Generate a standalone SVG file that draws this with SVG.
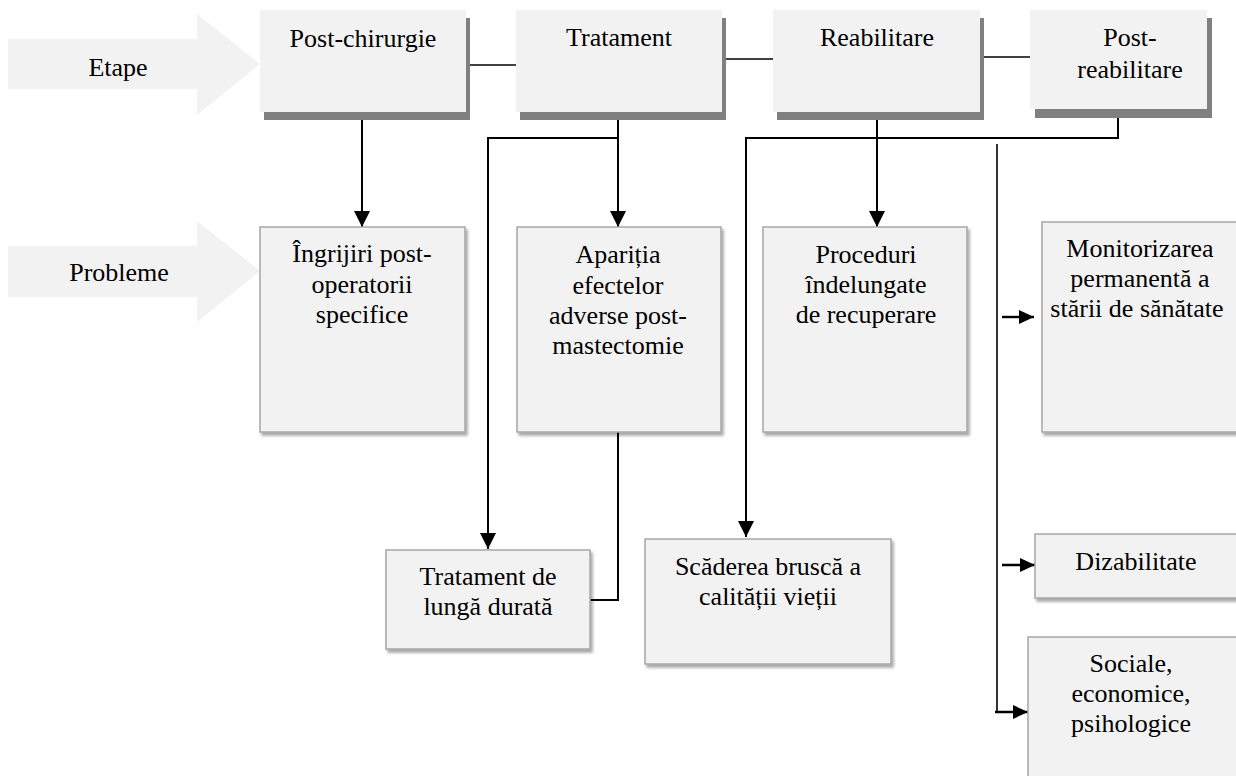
<svg xmlns="http://www.w3.org/2000/svg" width="1236" height="776" viewBox="0 0 1236 776">
  <style>
    .t { font-family: 'Liberation Serif', 'Times New Roman', 'DejaVu Serif', serif; font-size: 26px; fill: #000; text-anchor: middle; }
    .big { fill: #f2f2f2; }
    .shadow { fill: #808080; }
    .box { fill: #f2f2f2; stroke: #a6a6a6; stroke-width: 1.5; filter: url(#soft); }
    .ln { fill: none; stroke: #000; stroke-width: 2; }
    .thin { fill: none; stroke: #000; stroke-width: 1.6; }
    .sln { fill: none; stroke: #000; stroke-width: 2.4; }
    .arr { marker-end: url(#ah); }
    .sarr { marker-end: url(#sh); }
  </style>
  <defs>
    <filter id="soft" x="-5%" y="-5%" width="115%" height="115%">
      <feDropShadow dx="2" dy="3" stdDeviation="1.5" flood-color="#000" flood-opacity="0.35"/>
    </filter>
    <marker id="ah" markerUnits="userSpaceOnUse" markerWidth="18" markerHeight="18" refX="16" refY="8" orient="auto" viewBox="0 0 18 18">
      <path d="M0,0 L16,8 L0,16 z" fill="#000"/>
    </marker>
    <marker id="sh" markerUnits="userSpaceOnUse" markerWidth="16" markerHeight="16" refX="15" refY="7" orient="auto" viewBox="0 0 16 16">
      <path d="M0,0 L15,7 L0,14 z" fill="#000"/>
    </marker>
  </defs>

  <g id="etape">
    <polygon class="big" points="8,39 197,39 197,14 260,64 197,115 197,89 8,89"/>
    <text class="t" x="118" y="76">Etape</text>
  </g>
  <g id="probleme">
    <polygon class="big" points="8,246 197,246 197,221 260,271 197,322 197,297 8,297"/>
    <text class="t" x="119" y="281">Probleme</text>
  </g>

  <g id="connectors">
    <line class="thin" x1="470" y1="65" x2="516" y2="65"/>
    <line class="thin" x1="726" y1="59" x2="773" y2="59"/>
    <line class="thin" x1="984" y1="57" x2="1030" y2="57"/>
    <line class="ln arr" x1="362" y1="120" x2="362" y2="227"/>
    <line class="ln arr" x1="618" y1="112" x2="618" y2="227"/>
    <polyline class="ln arr" points="618,138 488,138 488,549"/>
    <line class="ln arr" x1="877" y1="112" x2="877" y2="227"/>
    <polyline class="ln arr" points="1118,109 1118,138 746,138 746,537"/>
    <polyline class="ln" points="618,432 618,600 590,600"/>
    <line class="thin" x1="997" y1="144" x2="997" y2="713"/>
    <line class="sln sarr" x1="1002" y1="317" x2="1034" y2="317"/>
    <line class="sln sarr" x1="1002" y1="565" x2="1035" y2="565"/>
    <line class="sln sarr" x1="995" y1="712" x2="1028" y2="712"/>
  </g>

  <g id="post-chirurgie">
    <rect class="shadow" x="264" y="18" width="206" height="102"/>
    <rect class="big" x="260" y="10" width="206" height="102"/>
    <text class="t" x="363" y="47">Post-chirurgie</text>
  </g>
  <g id="tratament">
    <rect class="shadow" x="520" y="18" width="206" height="102"/>
    <rect class="big" x="516" y="10" width="206" height="102"/>
    <text class="t" x="619" y="46">Tratament</text>
  </g>
  <g id="reabilitare">
    <rect class="shadow" x="777" y="18" width="207" height="102"/>
    <rect class="big" x="773" y="10" width="207" height="102"/>
    <text class="t" x="877" y="46">Reabilitare</text>
  </g>
  <g id="post-reabilitare">
    <rect class="shadow" x="1035" y="18" width="177" height="100"/>
    <rect class="big" x="1030" y="10" width="177" height="99"/>
    <text class="t" x="1130" y="46">Post-</text>
    <text class="t" x="1130" y="78">reabilitare</text>
  </g>

  <g id="ingrijiri">
    <rect class="box" x="260" y="227" width="205" height="205"/>
    <text class="t" x="362" y="262">Îngrijiri post-</text>
    <text class="t" x="362" y="293">operatorii</text>
    <text class="t" x="362" y="323">specifice</text>
  </g>
  <g id="aparitia">
    <rect class="box" x="517" y="227" width="204" height="205"/>
    <text class="t" x="618" y="263">Apariția</text>
    <text class="t" x="618" y="294">efectelor</text>
    <text class="t" x="618" y="324">adverse post-</text>
    <text class="t" x="618" y="354">mastectomie</text>
  </g>
  <g id="proceduri">
    <rect class="box" x="763" y="227" width="204" height="205"/>
    <text class="t" x="866" y="263">Proceduri</text>
    <text class="t" x="866" y="293">îndelungate</text>
    <text class="t" x="866" y="323">de recuperare</text>
  </g>
  <g id="monitorizarea">
    <rect class="box" x="1042" y="222" width="200" height="210"/>
    <text class="t" x="1140" y="257">Monitorizarea</text>
    <text class="t" x="1140" y="287">permanentă a</text>
    <text class="t" x="1137" y="317">stării de sănătate</text>
  </g>
  <g id="tratament-lunga">
    <rect class="box" x="386" y="550" width="204" height="99"/>
    <text class="t" x="488" y="585">Tratament de</text>
    <text class="t" x="488" y="615">lungă durată</text>
  </g>
  <g id="scaderea">
    <rect class="box" x="645" y="539" width="246" height="125"/>
    <text class="t" x="768" y="575">Scăderea bruscă a</text>
    <text class="t" x="768" y="605">calității vieții</text>
  </g>
  <g id="dizabilitate">
    <rect class="box" x="1035" y="534" width="207" height="64"/>
    <text class="t" x="1136" y="570">Dizabilitate</text>
  </g>
  <g id="sociale">
    <rect class="box" x="1028" y="637" width="214" height="150"/>
    <text class="t" x="1131" y="672">Sociale,</text>
    <text class="t" x="1131" y="702">economice,</text>
    <text class="t" x="1131" y="732">psihologice</text>
  </g>
</svg>
